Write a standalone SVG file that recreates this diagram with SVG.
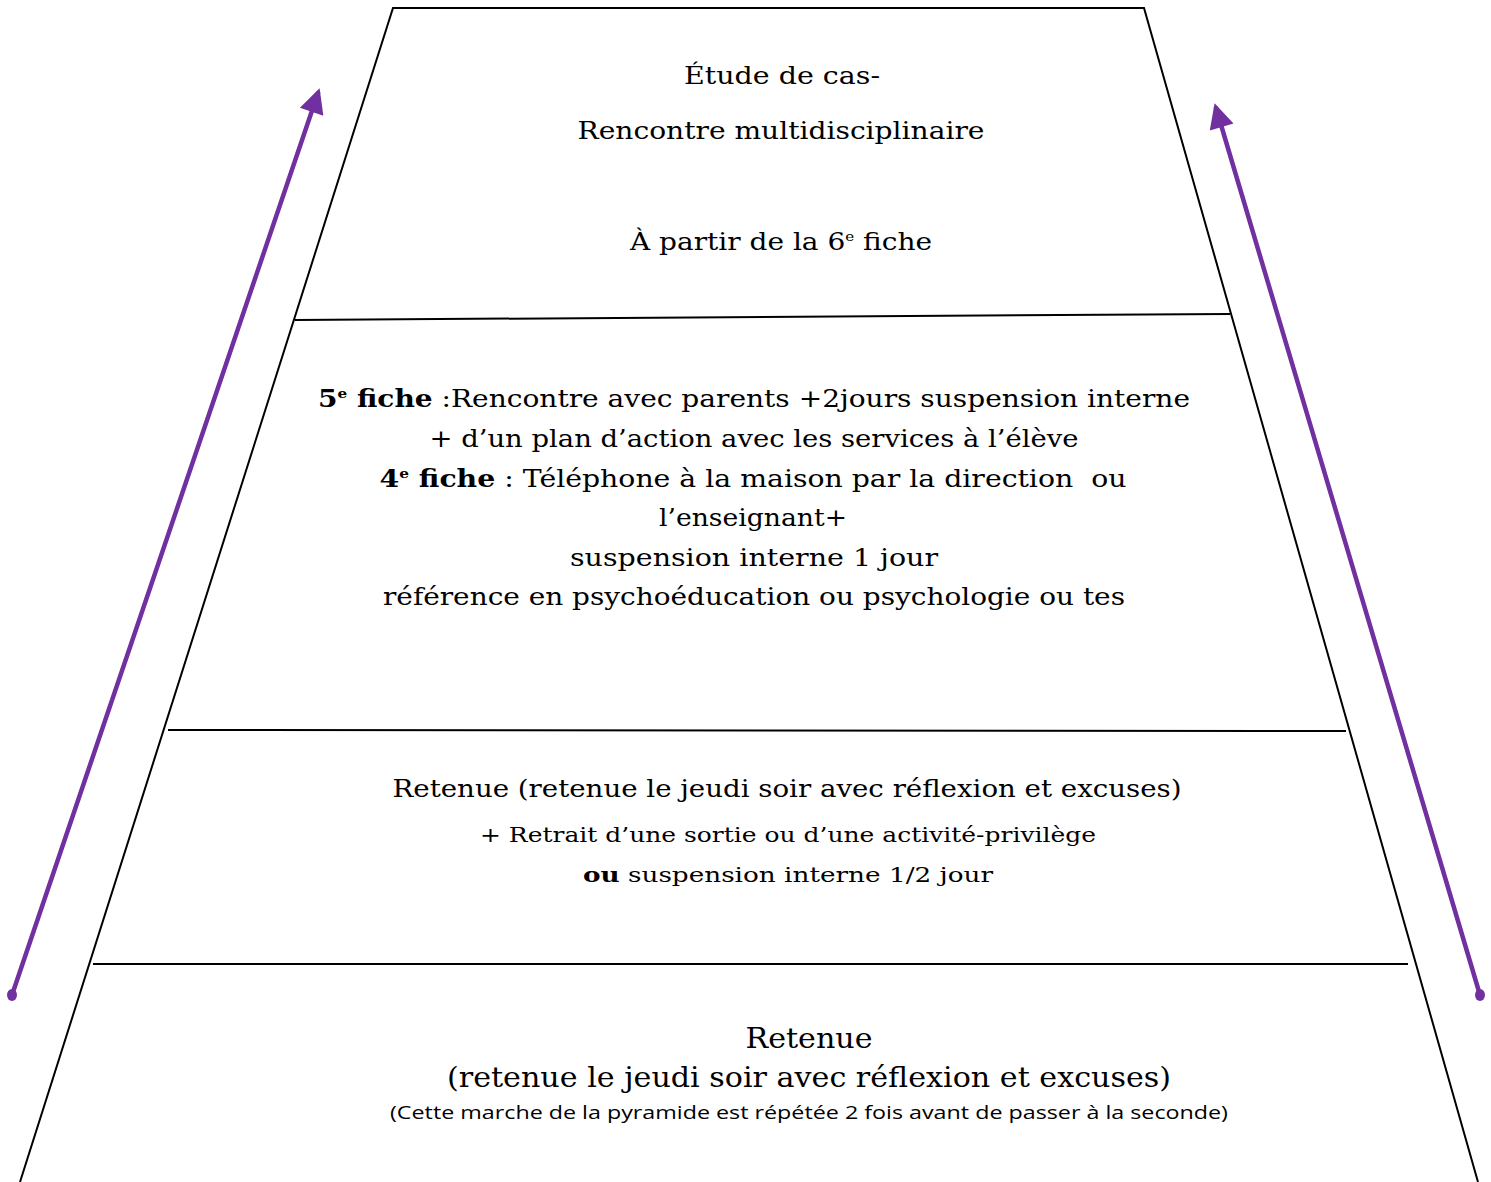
<svg xmlns="http://www.w3.org/2000/svg" width="1491" height="1182" viewBox="0 0 1491 1182">
<style>
.t{font-family:"DejaVu Serif","Liberation Serif",serif;font-size:24px;fill:#000;text-anchor:middle}
.s{font-size:21px}
.l{font-size:28px}
.c{font-family:"Open Sans","Liberation Sans",sans-serif;font-size:19px}
.b{font-weight:bold}
.sup{font-size:13px}
.edge{stroke:#000;stroke-width:2;fill:none}
.arr{stroke:#7030A0;stroke-width:4.5;fill:none;stroke-linecap:round}
</style>
<defs>
<marker id="ah" viewBox="0 0 10 10" refX="8" refY="5" markerWidth="6.5" markerHeight="5.5" markerUnits="strokeWidth" orient="auto">
<path d="M0,0 L10,5 L0,10 z" fill="#7030A0"/>
</marker>
</defs>
<rect width="1491" height="1182" fill="#fff"/>
<g id="pyramid">
<path class="edge" d="M20,1182 L393,8 L1144,8 L1478,1182"/>
</g>
<g id="level-top">
<line class="edge" x1="295" y1="320" x2="1230" y2="314"/>
<text class="t" x="782" y="84" textLength="196" lengthAdjust="spacingAndGlyphs">Étude de cas-</text>
<text class="t" x="781" y="139" textLength="407" lengthAdjust="spacingAndGlyphs">Rencontre multidisciplinaire</text>
<text class="t" x="781" y="250" textLength="302" lengthAdjust="spacingAndGlyphs">À partir de la 6<tspan class="sup" dy="-9">e</tspan><tspan dy="9"> fiche</tspan></text>
</g>
<g id="level-3">
<line class="edge" x1="168" y1="730" x2="1346" y2="731"/>
<text class="t" x="754" y="407" textLength="872" lengthAdjust="spacingAndGlyphs"><tspan class="b">5</tspan><tspan class="b sup" dy="-9">e</tspan><tspan class="b" dy="9"> fiche</tspan> :Rencontre avec parents +2jours suspension interne</text>
<text class="t" x="754" y="447" textLength="649" lengthAdjust="spacingAndGlyphs">+ d’un plan d’action avec les services à l’élève</text>
<text class="t" x="753" y="487" textLength="747" lengthAdjust="spacingAndGlyphs" xml:space="preserve"><tspan class="b">4</tspan><tspan class="b sup" dy="-9">e</tspan><tspan class="b" dy="9"> fiche</tspan> : Téléphone à la maison par la direction  ou</text>
<text class="t" x="753" y="526" textLength="188" lengthAdjust="spacingAndGlyphs">l’enseignant+</text>
<text class="t" x="754" y="566" textLength="368" lengthAdjust="spacingAndGlyphs">suspension interne 1 jour</text>
<text class="t" x="754" y="605" textLength="742" lengthAdjust="spacingAndGlyphs">référence en psychoéducation ou psychologie ou tes</text>
</g>
<g id="level-2">
<line class="edge" x1="93" y1="964" x2="1408" y2="964"/>
<text class="t" x="787" y="797" textLength="789" lengthAdjust="spacingAndGlyphs">Retenue (retenue le jeudi soir avec réflexion et excuses)</text>
<text class="t s" x="788" y="842" textLength="616" lengthAdjust="spacingAndGlyphs">+ Retrait d’une sortie ou d’une activité-privilège</text>
<text class="t s" x="788" y="882" textLength="410" lengthAdjust="spacingAndGlyphs"><tspan class="b">ou</tspan> suspension interne 1/2 jour</text>
</g>
<g id="level-1">
<text class="t l" x="809" y="1048" textLength="127" lengthAdjust="spacingAndGlyphs">Retenue</text>
<text class="t l" x="809" y="1087" textLength="724" lengthAdjust="spacingAndGlyphs">(retenue le jeudi soir avec réflexion et excuses)</text>
<text class="t c" x="809" y="1119" textLength="838" lengthAdjust="spacingAndGlyphs">(Cette marche de la pyramide est répétée 2 fois avant de passer à la seconde)</text>
</g>
<g id="connectors">
<line class="arr" x1="12" y1="995" x2="318" y2="93" marker-end="url(#ah)"/>
<ellipse cx="12" cy="995" rx="5" ry="6" fill="#7030A0"/>
<line class="arr" x1="1480" y1="995" x2="1216" y2="108" marker-end="url(#ah)"/>
<ellipse cx="1480" cy="995" rx="5" ry="6" fill="#7030A0"/>
</g>
</svg>
